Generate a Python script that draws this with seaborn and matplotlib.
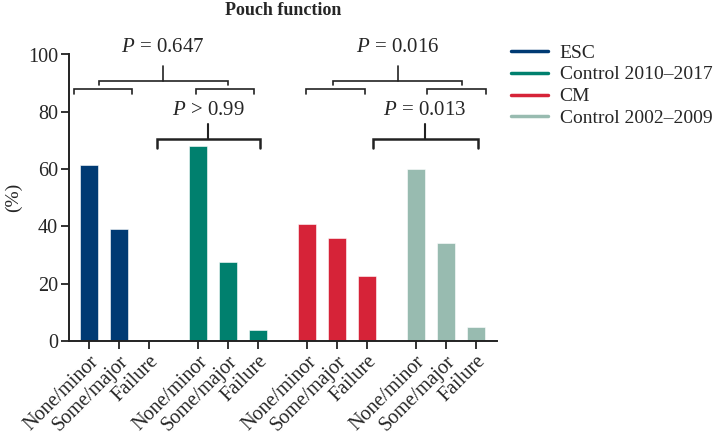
import numpy as np
import pandas as pd
import matplotlib
matplotlib.use('Agg')
import matplotlib.pyplot as plt
import seaborn as sns
from matplotlib.lines import Line2D

sns.set_style('ticks')
plt.rcParams['font.family'] = ['Liberation Serif', 'DejaVu Serif']
plt.rcParams['mathtext.fontset'] = 'custom'
plt.rcParams['mathtext.rm'] = 'Liberation Serif'
plt.rcParams['mathtext.it'] = 'Liberation Serif:italic'

# data
groups = ['ESC', 'Control 2010\u20132017', 'CM', 'Control 2002\u20132009']
outcomes = ['None/minor', 'Some/major', 'Failure']
esc = [61.4, 39.1, 0.0]
ctrl_2010 = [68.1, 27.6, 3.8]
cm = [40.7, 36.0, 22.6]
ctrl_2002 = [60.0, 34.2, 4.8]
colors = ['#003a73', '#00806e', '#d62338', '#98bbb0']

group_step = 3.63
rows = []
for g, (name, vals) in enumerate(zip(groups, [esc, ctrl_2010, cm, ctrl_2002])):
    for k, (o, v) in enumerate(zip(outcomes, vals)):
        rows.append({'pos': g * group_step + k, 'group': name, 'outcome': o, 'value': v})
df = pd.DataFrame(rows)

fig = plt.figure(figsize=(7.24, 4.36), dpi=100)
ax = fig.add_axes([0.0953, 0.218, 0.591, 0.657])

sns.barplot(data=df, x='pos', y='value', hue='group', hue_order=groups,
            palette=colors, native_scale=True, dodge=False, width=0.6,
            saturation=1, legend=False, ax=ax, edgecolor='white', linewidth=0.4)

ax.set_xlim(-0.67, 13.6)
ax.set_ylim(0, 100)
ax.set_yticks([0, 20, 40, 60, 80, 100])
ax.set_xticks(df['pos'])
ax.set_xticklabels(df['outcome'], rotation=45, ha='right', va='top',
                   rotation_mode='anchor')
ax.tick_params(labelsize=14.5, width=1.3, length=6, color='#222222', pad=2)
ax.set_xlabel('')
ax.set_ylabel('(%)', fontsize=14, labelpad=4)
for s in ['left', 'bottom']:
    ax.spines[s].set_linewidth(1.4)
    ax.spines[s].set_color('#222222')
sns.despine(ax=ax)

def bracket(x0, x1, y, drop, lw=1.2):
    ax.plot([x0, x0, x1, x1], [y - drop, y, y, y - drop], color='#222222',
            lw=lw, clip_on=False, solid_joinstyle='miter')

def stem(x, y0, y1, lw=1.2):
    ax.plot([x, x], [y0, y1], color='#222222', lw=lw, clip_on=False)

# left pair
bracket(-0.5, 1.43, 88.0, 1.8)
bracket(3.57, 5.5, 88.0, 1.8)
bracket(0.33, 4.63, 90.9, 1.5)
stem(2.47, 90.9, 96.0)
ax.text(2.47, 102.5, r'$P$ = 0.647', ha='center', va='center', fontsize=15,
        clip_on=False)
bracket(2.27, 5.7, 70.5, 3.1, lw=1.8)
stem(3.98, 70.5, 75.7, lw=1.5)
ax.text(3.98, 80.5, r'$P$ > 0.99', ha='center', va='center', fontsize=15)

# right pair
bracket(7.23, 9.2, 88.0, 1.8)
bracket(11.27, 13.23, 88.0, 1.8)
bracket(8.13, 12.43, 90.9, 1.5)
stem(10.3, 90.9, 96.0)
ax.text(10.3, 102.5, r'$P$ = 0.016', ha='center', va='center', fontsize=15,
        clip_on=False)
bracket(9.47, 12.97, 70.5, 3.1, lw=1.8)
stem(11.2, 70.5, 75.7, lw=1.5)
ax.text(11.2, 80.5, r'$P$ = 0.013', ha='center', va='center', fontsize=15)

fig.text(0.391, 0.977, 'Pouch function', ha='center', va='center',
         fontsize=13, fontweight='bold')

handles = [Line2D([0], [0], color=c, lw=2.5) for c in colors]
fig.legend(handles, groups, loc='upper left', bbox_to_anchor=(0.695, 0.917),
           frameon=False, fontsize=14, handlelength=1.9, handletextpad=0.6,
           labelspacing=0.22, borderaxespad=0)

fig.savefig('out.png', dpi=100)
